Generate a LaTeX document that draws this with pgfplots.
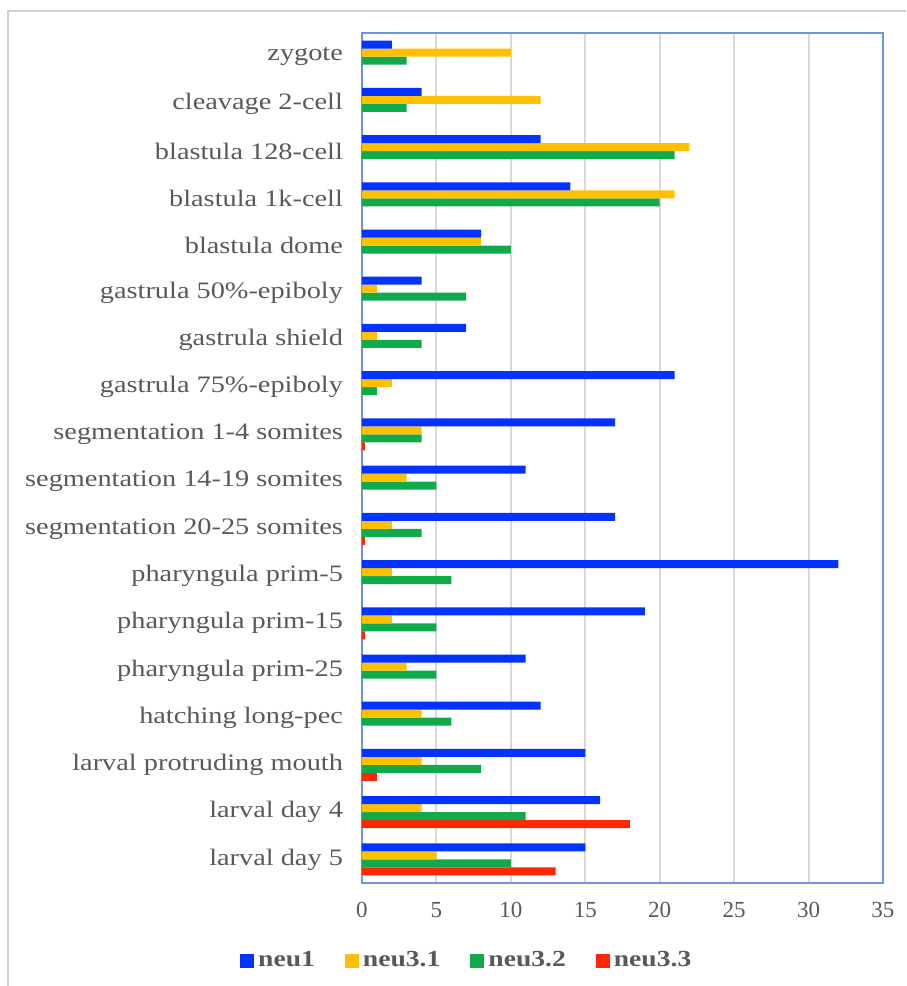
\documentclass[border=0pt]{standalone}
\usepackage{fontspec}
\setmainfont{Liberation Serif}[FakeStretch=1.2]
\newfontfamily\tickfont{Liberation Serif}
\usepackage{pgfplots}
\pgfplotsset{compat=1.18}
\definecolor{cblue}{RGB}{3,51,255}
\definecolor{cyellow}{RGB}{255,192,0}
\definecolor{cgreen}{RGB}{16,170,75}
\definecolor{cred}{RGB}{255,38,0}
\definecolor{labelgray}{RGB}{89,89,89}
\definecolor{gridgray}{RGB}{217,217,217}
\definecolor{framegray}{RGB}{208,208,208}
\definecolor{axblue}{RGB}{112,148,220}
\begin{document}
\begin{tikzpicture}
\path[use as bounding box] (0,0) rectangle (453pt,493pt);
\draw[framegray, line width=0.8pt] (4pt,0) -- (4pt,487.5pt) -- (453pt,487.5pt);
\begin{axis}[
  at={(181pt,51.5pt)}, anchor=south west,
  scale only axis, width=260.5pt, height=425pt,
  xbar=0pt, bar width=4pt,
  xmin=0, xmax=35, ymin=-0.5, ymax=17.5,
  y dir=reverse,
  xtick={0,5,...,35},
  ytick={0,...,17},
  yticklabels={zygote, cleavage 2-cell, blastula 128-cell, blastula 1k-cell, blastula dome, gastrula 50\%-epiboly, gastrula shield, gastrula 75\%-epiboly, segmentation 1-4 somites, segmentation 14-19 somites, segmentation 20-25 somites, pharyngula prim-5, pharyngula prim-15, pharyngula prim-25, hatching long-pec, larval protruding mouth, larval day 4, larval day 5},
  major tick length=0pt,
  xmajorgrids, major grid style={draw=gridgray, line width=1pt},
  axis line style={draw=axblue, line width=0.9pt},
  /pgf/number format/assume math mode=true,
  xticklabel style={font=\tickfont\fontsize{11.5}{13}\selectfont, text=labelgray, yshift=-6pt},
  yticklabel style={font=\fontsize{11.8}{14}\selectfont, text=labelgray, xshift=-6pt},
  legend style={at={(0.203,-0.0915)}, anchor=center, draw=none, fill=none,
    legend columns=4, font=\bfseries\fontsize{11.5}{14}\selectfont, text=labelgray,
    /tikz/every even column/.append style={column sep=13pt}},
  legend image code/.code={\fill[#1] (0pt,-3.5pt) rectangle (7pt,3.5pt);},
  legend cell align=left,
  reverse legend,
]
\addplot[fill=cred, draw=none] coordinates {
(0,0) (0,1) (0,2) (0,3) (0,4) (0,5) (0,6) (0,7) (0.2,8) (0,9) (0.2,10) (0,11) (0.2,12) (0,13) (0,14) (1,15) (18,16) (13,17)};
\addplot[fill=cgreen, draw=none] coordinates {
(3,0) (3,1) (21,2) (20,3) (10,4) (7,5) (4,6) (1,7) (4,8) (5,9) (4,10) (6,11) (5,12) (5,13) (6,14) (8,15) (11,16) (10,17)};
\addplot[fill=cyellow, draw=none] coordinates {
(10,0) (12,1) (22,2) (21,3) (8,4) (1,5) (1,6) (2,7) (4,8) (3,9) (2,10) (2,11) (2,12) (3,13) (4,14) (4,15) (4,16) (5,17)};
\addplot[fill=cblue, draw=none] coordinates {
(2,0) (4,1) (12,2) (14,3) (8,4) (4,5) (7,6) (21,7) (17,8) (11,9) (17,10) (32,11) (19,12) (11,13) (12,14) (15,15) (16,16) (15,17)};
\legend{neu3.3, neu3.2, neu3.1, neu1}
\end{axis}
\end{tikzpicture}
\end{document}
